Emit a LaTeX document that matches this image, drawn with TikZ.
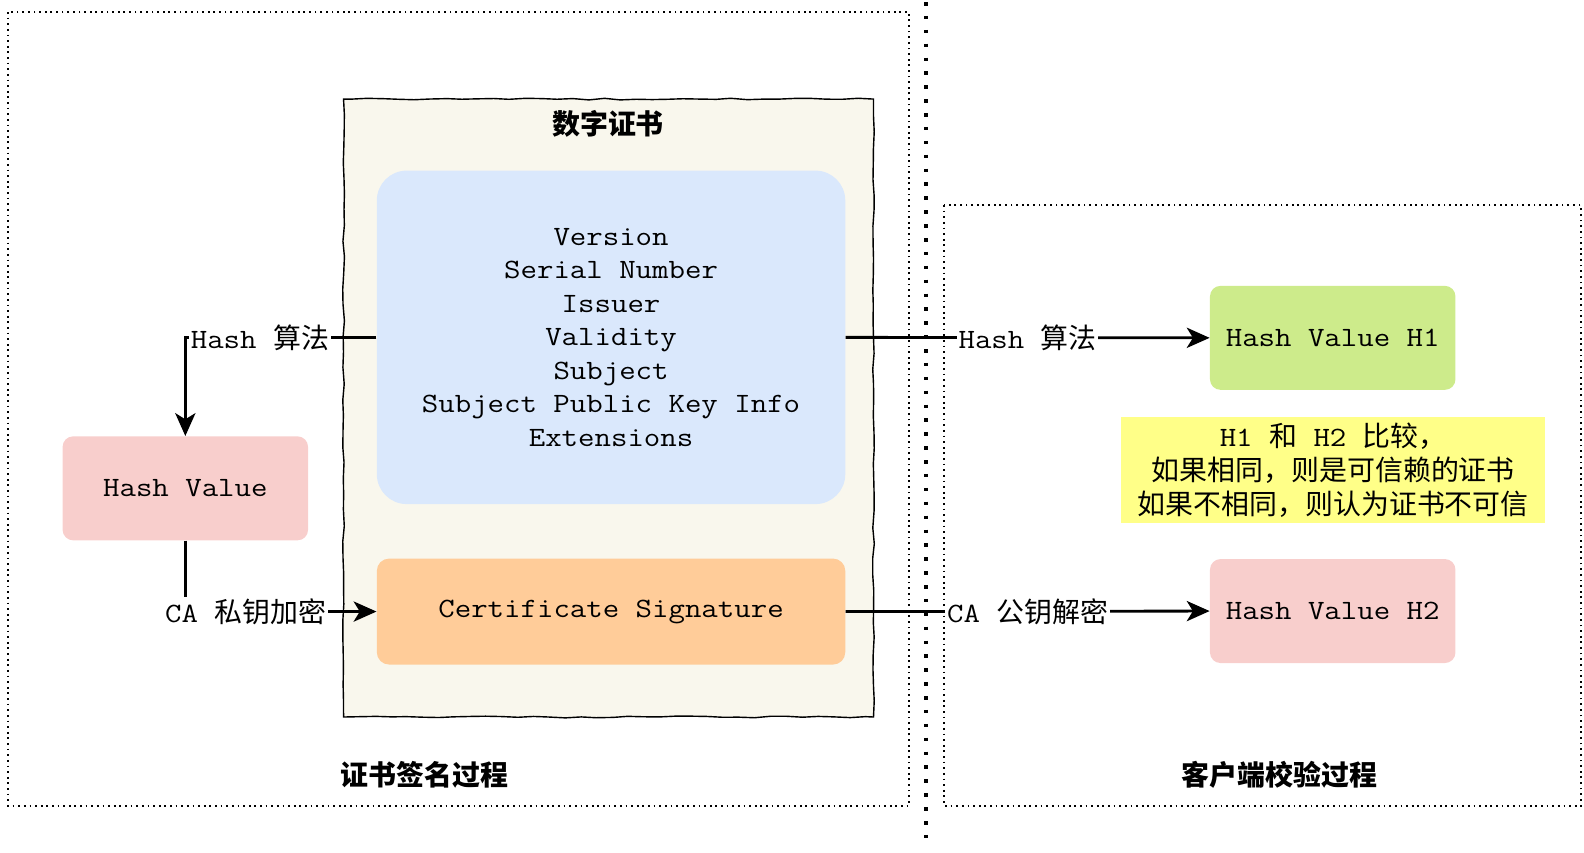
\documentclass[tikz,border=0pt]{standalone}
\usepackage{fontspec}
\setmainfont{Noto Sans CJK SC}
\setmonofont{Latin Modern Mono}[FakeStretch=1.143]
\usetikzlibrary{arrows.meta,decorations.pathmorphing}
\definecolor{certbg}{HTML}{F9F7ED}
\definecolor{fieldblue}{HTML}{DAE8FC}
\definecolor{signorange}{HTML}{FFCC99}
\definecolor{hashred}{HTML}{F8CECC}
\definecolor{hashgreen}{HTML}{CDEB8B}
\definecolor{noteyellow}{HTML}{FFFF88}
\newcommand\figfont{\fontsize{15.9}{19.1}\selectfont}
\begin{document}
\begin{tikzpicture}[x=0.0202cm,y=-0.0202cm]
      % Define styles for nodes
      \tikzstyle{frame} = [line width=1.1pt,dash pattern=on 1pt off 2.2pt]
      \tikzstyle{divider} = [line width=2.2pt,dash pattern=on 2pt off 5.9pt]
      \tikzstyle{cert} = [draw,fill=certbg,line width=0.8pt,minimum width=10.6cm,
      minimum height=12.36cm,decorate,decoration={random steps,segment length=9pt,
      amplitude=0.5pt}]
      \tikzstyle{field} = [rounded corners=17pt,minimum width=9.37cm,
      align=center,font=\ttfamily\figfont]
      \tikzstyle{hashbox} = [rounded corners=6pt,minimum width=4.91cm,
      minimum height=2.08cm,font=\ttfamily\figfont]
      \tikzstyle{edgelabel} = [fill=white,inner sep=1pt,font=\figfont]
      \tikzstyle{title} = [font=\bfseries\figfont]
      \tikzstyle{conn} = [line width=1.6pt,
      -{Stealth[length=13pt,width=11.5pt,inset=3.5pt]}]

      \useasboundingbox (0,0) rectangle (1568.3,843.6);

      % Dotted frames and divider
      \draw[frame] (8,12) rectangle (900,798);
      \draw[frame] (935,203) rectangle (1565,798);
      \draw[divider] (917,2) -- (917,835);

      % Certificate
      \node[cert] (cert) at (602.5,404) {};
      \node[title] (certtitle) at (602,123) {数字证书};
      \node[field,fill=fieldblue,minimum height=6.67cm] (fields) at (605,334)
      {Version\\Serial Number\\Issuer\\Validity\\Subject\\
      Subject Public Key Info\\Extensions};
      \node[field,fill=signorange,rounded corners=7pt,minimum height=2.12cm]
      (signature) at (605,605.5) {Certificate Signature};

      % Hash values
      \node[hashbox,fill=hashred] (hashvalue) at (183.5,483.5) {Hash Value};
      \node[hashbox,fill=hashgreen] (hone) at (1319.5,334.5) {Hash Value H1};
      \node[hashbox,fill=hashred] (htwo) at (1319.5,605) {Hash Value H2};

      % Note
      \node[fill=noteyellow,minimum width=8.48cm,minimum height=2.12cm,
      align=center,font=\figfont] (note) at (1320,465.5)
      {\texttt{H1\ }和\texttt{\ H2\ }比较，\\如果相同，则是可信赖的证书\\
      如果不相同，则认为证书不可信};

      % Connections
      \draw[conn] (fields.west) -| node[edgelabel,pos=0.305]
      {\texttt{Hash\ }算法} (hashvalue.north);
      \draw[conn] (hashvalue.south) |- node[edgelabel,pos=0.658]
      {\texttt{CA\ }私钥加密} (signature.west);
      \draw[conn] (fields.east) -- node[edgelabel,pos=0.5]
      {\texttt{Hash\ }算法} (hone.west);
      \draw[conn] (signature.east) -- node[edgelabel,pos=0.5]
      {\texttt{CA\ }公钥解密} (htwo.west);

      % Captions at bottom
      \node[title] (signcaption) at (420,767) {证书签名过程};
      \node[title] (checkcaption) at (1267,767) {客户端校验过程};
\end{tikzpicture}
\end{document}
